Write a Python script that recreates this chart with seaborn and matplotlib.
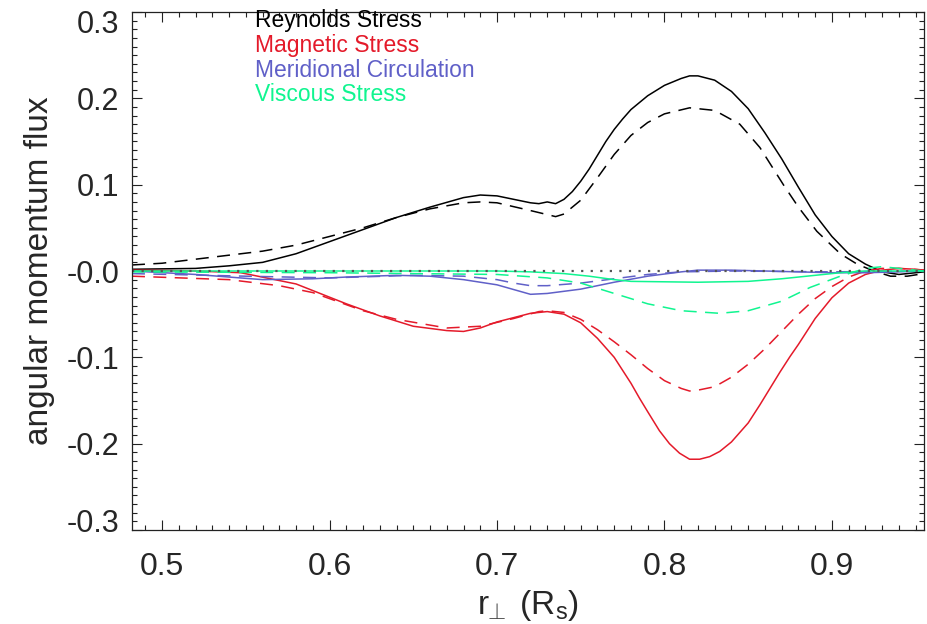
import numpy as np
import pandas as pd
import seaborn as sns
import matplotlib.pyplot as plt
from matplotlib.ticker import MultipleLocator, FixedLocator, FixedFormatter
from matplotlib.transforms import ScaledTranslation

# values (r_perp in R_s, flux)
rey_x = [0.482, 0.52, 0.54, 0.56, 0.58, 0.60, 0.62, 0.64, 0.66, 0.68, 0.69, 0.70, 0.71, 0.72, 0.725,
         0.73, 0.735, 0.74, 0.745, 0.75, 0.755, 0.76, 0.765, 0.77, 0.775, 0.78, 0.79, 0.80, 0.81,
         0.815, 0.82, 0.83, 0.84, 0.85, 0.86, 0.87, 0.88, 0.89, 0.90, 0.91, 0.92, 0.93, 0.94, 0.95,
         0.955]
rey_solid = [0.002, 0.003, 0.006, 0.010, 0.020, 0.034, 0.048, 0.062, 0.074, 0.085, 0.088, 0.087, 0.083,
             0.079, 0.078, 0.080, 0.078, 0.083, 0.092, 0.104, 0.118, 0.134, 0.150, 0.164, 0.176, 0.187,
             0.203, 0.215, 0.223, 0.226, 0.226, 0.221, 0.208, 0.188, 0.160, 0.130, 0.097, 0.065, 0.040,
             0.020, 0.008, -0.001, -0.004, -0.002, -0.001]

rey_dash_x = [0.482, 0.50, 0.53, 0.56, 0.58, 0.60, 0.62, 0.64, 0.66, 0.68, 0.69, 0.70, 0.72, 0.735,
              0.74, 0.75, 0.76, 0.77, 0.78, 0.79, 0.80, 0.815, 0.83, 0.845, 0.857, 0.871, 0.88, 0.891,
              0.905, 0.915, 0.925, 0.935, 0.945, 0.955]
rey_dash = [0.007, 0.009, 0.016, 0.023, 0.030, 0.040, 0.050, 0.062, 0.072, 0.079, 0.080, 0.079, 0.070,
            0.063, 0.066, 0.082, 0.108, 0.135, 0.157, 0.172, 0.182, 0.189, 0.186, 0.170, 0.143, 0.100,
            0.074, 0.046, 0.020, 0.008, 0.000, -0.006, -0.006, -0.003]

mag_x = [0.482, 0.52, 0.547, 0.58, 0.61, 0.63, 0.65, 0.67, 0.68, 0.69, 0.70, 0.72, 0.73, 0.74, 0.75,
         0.76, 0.77, 0.775, 0.78, 0.785, 0.79, 0.797, 0.803, 0.809, 0.815, 0.821, 0.827, 0.833, 0.84,
         0.845, 0.85, 0.857, 0.863, 0.869, 0.875, 0.88, 0.89, 0.90, 0.91, 0.92, 0.93, 0.94, 0.95, 0.955]
mag_solid = [0.001, 0.000, -0.002, -0.015, -0.038, -0.052, -0.064, -0.069, -0.070, -0.066, -0.059,
             -0.049, -0.047, -0.050, -0.060, -0.078, -0.100, -0.115, -0.130, -0.147, -0.163, -0.185,
             -0.200, -0.211, -0.218, -0.218, -0.215, -0.209, -0.198, -0.187, -0.176, -0.155, -0.136,
             -0.117, -0.099, -0.085, -0.055, -0.031, -0.014, -0.004, 0.001, 0.003, 0.002, 0.001]

mag_dash_x = [0.482, 0.54, 0.57, 0.59, 0.62, 0.64, 0.67, 0.69, 0.71, 0.725, 0.73, 0.74, 0.75, 0.76,
              0.77, 0.78, 0.79, 0.80, 0.81, 0.815, 0.82, 0.83, 0.84, 0.85, 0.86, 0.87, 0.88, 0.89,
              0.90, 0.91, 0.92, 0.93, 0.94, 0.955]
mag_dash = [-0.006, -0.010, -0.017, -0.025, -0.046, -0.056, -0.066, -0.064, -0.055, -0.047, -0.046,
            -0.048, -0.056, -0.068, -0.082, -0.097, -0.113, -0.127, -0.136, -0.139, -0.138, -0.134,
            -0.123, -0.108, -0.090, -0.070, -0.050, -0.032, -0.018, -0.007, 0.000, 0.003, 0.003, 0.001]

mer_x = [0.482, 0.52, 0.56, 0.59, 0.61, 0.64, 0.66, 0.68, 0.70, 0.72, 0.73, 0.75, 0.77, 0.79, 0.81,
         0.82, 0.84, 0.86, 0.88, 0.90, 0.92, 0.94, 0.955]
mer_solid = [0.000, -0.004, -0.010, -0.009, -0.007, -0.005, -0.006, -0.010, -0.016, -0.027, -0.026,
             -0.021, -0.013, -0.006, -0.001, 0.001, 0.001, 0.000, -0.001, -0.002, -0.002, -0.001, 0.000]

mer_dash_x = [0.482, 0.55, 0.60, 0.65, 0.68, 0.70, 0.71, 0.72, 0.73, 0.75, 0.77, 0.79, 0.81, 0.84,
              0.90, 0.955]
mer_dash = [-0.003, -0.006, -0.008, -0.005, -0.006, -0.010, -0.014, -0.017, -0.017, -0.014, -0.009,
            -0.004, -0.001, 0.000, -0.001, 0.000]

vis_x = [0.482, 0.70, 0.72, 0.74, 0.755, 0.77, 0.78, 0.82, 0.85, 0.87, 0.89, 0.905, 0.92, 0.955]
vis_solid = [0.000, 0.000, -0.001, -0.003, -0.006, -0.010, -0.012, -0.013, -0.012, -0.009, -0.005,
             -0.002, 0.000, 0.000]

vis_dash_x = [0.482, 0.60, 0.70, 0.73, 0.75, 0.77, 0.79, 0.81, 0.833, 0.85, 0.87, 0.887, 0.905, 0.92,
              0.93, 0.94, 0.955]
vis_dash = [-0.001, -0.002, -0.004, -0.008, -0.014, -0.026, -0.038, -0.046, -0.049, -0.046, -0.035,
            -0.019, -0.006, 0.003, 0.005, 0.003, 0.000]

names = ["Reynolds Stress", "Magnetic Stress", "Meridional Circulation", "Viscous Stress"]
colors = ["black", "#e41a2a", "#6060c8", "#10f590"]
ytick_vals = [-0.3, -0.2, -0.1, 0.0, 0.1, 0.2, 0.3]
ytick_labels = ["-0.3", "-0.2", "-0.1", "-0.0", "0.1", "0.2", "0.3"]

sns.set_style("ticks")
plt.rcParams["font.family"] = ["Liberation Sans", "DejaVu Sans"]
plt.rcParams["mathtext.fontset"] = "custom"
plt.rcParams["mathtext.rm"] = "Liberation Sans"
plt.rcParams["mathtext.it"] = "Liberation Sans"

fig = plt.figure(figsize=(9.28, 6.24), dpi=100)
ax = fig.add_axes([0.1422, 0.1506, 0.8535, 0.8302])

series = [
    (rey_x, rey_solid, rey_dash_x, rey_dash, colors[0]),
    (mag_x, mag_solid, mag_dash_x, mag_dash, colors[1]),
    (mer_x, mer_solid, mer_dash_x, mer_dash, colors[2]),
    (vis_x, vis_solid, vis_dash_x, vis_dash, colors[3]),
]
for xs, ys, xd, yd, c in series:
    sns.lineplot(x=xs, y=ys, color=c, lw=1.1, ax=ax)
    sns.lineplot(x=xd, y=yd, color=c, lw=1.1, ax=ax, dashes=False, linestyle=(0, (8.5, 5.5)))

ax.axhline(0, color="#555555", lw=1.6, linestyle=(0, (1, 3.3)))

ax.set_xlim(0.482, 0.955)
ax.set_ylim(-0.3, 0.3)
ax.xaxis.set_major_locator(MultipleLocator(0.1))
ax.xaxis.set_minor_locator(MultipleLocator(0.01))
ax.yaxis.set_major_locator(FixedLocator(ytick_vals))
ax.yaxis.set_major_formatter(FixedFormatter(ytick_labels))
ax.yaxis.set_minor_locator(MultipleLocator(0.01))
ax.tick_params(which="both", direction="in", top=True, right=True, width=0.8, color="#222222")
ax.tick_params(which="major", length=7)
ax.tick_params(which="minor", length=3.5)
ax.tick_params(axis="x", which="major", labelsize=23, pad=16)
ax.tick_params(axis="y", which="major", labelsize=22, pad=9)
for s in ax.spines.values():
    s.set_linewidth(0.9)
    s.set_color("#222222")

# IDL pulls the end labels inside the frame
ylabels = ax.get_yticklabels()
ylabels[0].set_transform(ylabels[0].get_transform() + ScaledTranslation(0, 7 / 72, fig.dpi_scale_trans))
ylabels[-1].set_transform(ylabels[-1].get_transform() + ScaledTranslation(0, -7 / 72, fig.dpi_scale_trans))

ax.set_xlabel(r"r$\!_\bot$ (R$_\mathrm{s}$)", fontsize=24, labelpad=4)
ax.set_ylabel("angular momentum flux", fontsize=24, labelpad=8)

for i, (name, c) in enumerate(zip(names, colors)):
    ax.text(0.155, 0.983 - i * 0.0477, name, color=c, fontsize=16.5, transform=ax.transAxes, va="center")

fig.savefig("out.png", dpi=100)
